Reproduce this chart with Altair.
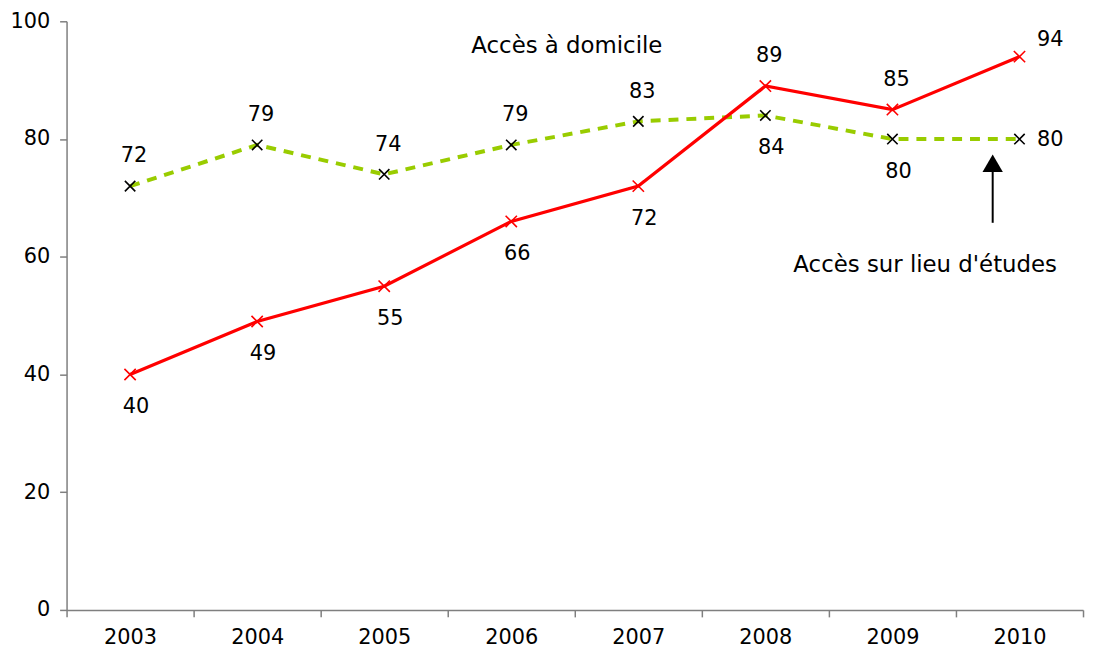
import altair as alt
import pandas as pd

years = ["2003", "2004", "2005", "2006", "2007", "2008", "2009", "2010"]
domicile = [40, 49, 55, 66, 72, 89, 85, 94]
etudes = [72, 79, 74, 79, 83, 84, 80, 80]
domicile_label_pos = ["below", "below", "below", "below", "below", "above", "above", "upright"]
etudes_label_pos = ["above", "above", "above", "above", "above", "below", "below", "right"]
y_ticks = [0, 20, 40, 60, 80, 100]

FONT = "DejaVu Sans"
FS = 21
FS_ANN = 23

df_dom = pd.DataFrame({"year": years, "value": domicile, "pos": domicile_label_pos})
df_etu = pd.DataFrame({"year": years, "value": etudes, "pos": etudes_label_pos})

xscale = alt.Scale(type="band", paddingInner=0, paddingOuter=0, domain=years)
yscale = alt.Scale(domain=[0, 100], nice=False)

X = alt.X("year:O", bandPosition=0.5, scale=xscale,
          axis=alt.Axis(title=None, labelAngle=0, tickBand="extent", domainColor="#7f7f7f",
                        tickColor="#7f7f7f", tickSize=7, labelPadding=10, labelFont=FONT,
                        labelFontSize=FS, labelColor="black", domainWidth=1.5, tickWidth=1.5))
Y = alt.Y("value:Q", scale=yscale,
          axis=alt.Axis(title=None, values=y_ticks, grid=False, domainColor="#7f7f7f",
                        tickColor="#7f7f7f", tickSize=7, labelPadding=10, labelFont=FONT,
                        labelFontSize=FS, labelColor="black", domainWidth=1.5, tickWidth=1.5))

XSHAPE = "M-1,-1L1,1M1,-1L-1,1"

green_line = alt.Chart(df_etu).mark_line(color="#99cc00", strokeWidth=4, strokeDash=[10, 8]).encode(x=X, y=Y)
green_pts = alt.Chart(df_etu).mark_point(shape=XSHAPE, filled=False, color="black", size=110, strokeWidth=1.6, opacity=1).encode(x=X, y=Y)
red_line = alt.Chart(df_dom).mark_line(color="#ff0000", strokeWidth=3.2).encode(x=X, y=Y)
red_pts = alt.Chart(df_dom).mark_point(shape=XSHAPE, filled=False, color="#ff0000", size=130, strokeWidth=1.6, opacity=1).encode(x=X, y=Y)

def labels(df):
    base = alt.Chart(df)
    def lay(code, dx, dy):
        return base.transform_filter(alt.datum.pos == code).mark_text(
            font=FONT, fontSize=FS, color="black", dx=dx, dy=dy).encode(x=X, y=Y, text="value:Q")
    return lay("above", 4, -30) + lay("below", 6, 33) + lay("right", 31, 1) + lay("upright", 31, -17)

ann_dom = alt.Chart(pd.DataFrame({"t": ["Accès à domicile"]})).mark_text(
    font=FONT, fontSize=FS_ANN, color="black").encode(x=alt.value(504), y=alt.value(25), text="t:N")
ann_etu = alt.Chart(pd.DataFrame({"t": ["Accès sur lieu d'études"]})).mark_text(
    font=FONT, fontSize=FS_ANN, color="black").encode(x=alt.value(865), y=alt.value(246), text="t:N")
arrow_shaft = alt.Chart(pd.DataFrame({"a": [0]})).mark_rule(color="black", strokeWidth=2).encode(
    x=alt.value(933), y=alt.value(150), y2=alt.value(203))
arrow_head = alt.Chart(pd.DataFrame({"a": [0]})).mark_point(
    shape="triangle-up", filled=True, color="black", size=420, opacity=1).encode(
    x=alt.value(933), y=alt.value(143))

chart = alt.layer(
    green_line, red_line, green_pts, red_pts, labels(df_dom), labels(df_etu),
    ann_dom, ann_etu, arrow_shaft, arrow_head
).properties(
    width=1024, height=593,
    autosize=alt.AutoSizeParams(type="none"),
    padding={"left": 59, "top": 11, "right": 2, "bottom": 41},
).configure_view(stroke=None)

chart.save("out.html", embed_options={"renderer": "svg", "actions": False})
